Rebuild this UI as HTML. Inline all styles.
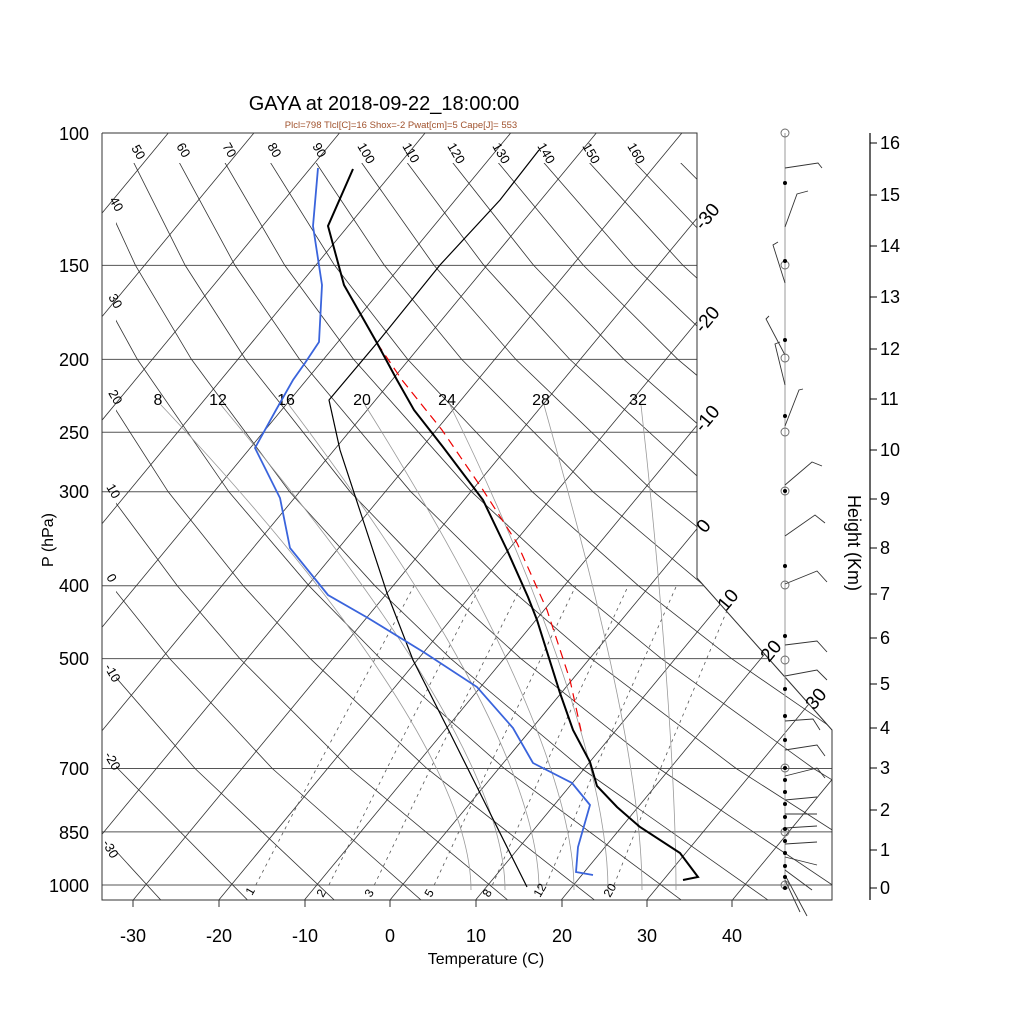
<!DOCTYPE html>
<html><head><meta charset="utf-8">
<style>
html,body{margin:0;padding:0;background:#fff;}
svg{display:block;font-family:"Liberation Sans",sans-serif;}
</style></head>
<body>
<svg width="1024" height="1024" viewBox="0 0 1024 1024" xmlns="http://www.w3.org/2000/svg">
<defs>
<clipPath id="cp"><polygon points="102,133 697,133 697,578 832,730 832,900 102,900"/></clipPath>
<clipPath id="cpd"><polygon points="116,163 697,163 697,578 832,730 832,900 116,900"/></clipPath>
</defs>
<rect width="1024" height="1024" fill="#fff"/>
<g clip-path="url(#cp)" stroke="#555" stroke-width="1">
<line x1="102" y1="265.4" x2="840" y2="265.4"/><line x1="102" y1="359.4" x2="840" y2="359.4"/>
<line x1="102" y1="432.3" x2="840" y2="432.3"/><line x1="102" y1="491.8" x2="840" y2="491.8"/>
<line x1="102" y1="585.8" x2="840" y2="585.8"/><line x1="102" y1="658.6" x2="840" y2="658.6"/>
<line x1="102" y1="768.5" x2="840" y2="768.5"/><line x1="102" y1="831.9" x2="840" y2="831.9"/>
<line x1="102" y1="885" x2="840" y2="885"/>
</g>
<g clip-path="url(#cp)" stroke="#333" stroke-width="0.8">
<line x1="-637.2" y1="900" x2="-2.9" y2="133"/><line x1="-551.6" y1="900" x2="82.7" y2="133"/>
<line x1="-466" y1="900" x2="168.3" y2="133"/><line x1="-380.4" y1="900" x2="253.9" y2="133"/>
<line x1="-294.8" y1="900" x2="339.5" y2="133"/><line x1="-209.2" y1="900" x2="425.1" y2="133"/>
<line x1="-123.6" y1="900" x2="510.7" y2="133"/><line x1="-38" y1="900" x2="596.3" y2="133"/>
<line x1="47.6" y1="900" x2="681.9" y2="133"/><line x1="133.2" y1="900" x2="767.5" y2="133"/>
<line x1="218.8" y1="900" x2="853.1" y2="133"/><line x1="304.4" y1="900" x2="938.7" y2="133"/>
<line x1="390" y1="900" x2="1024.3" y2="133"/><line x1="475.6" y1="900" x2="1109.9" y2="133"/>
<line x1="561.2" y1="900" x2="1195.5" y2="133"/><line x1="646.8" y1="900" x2="1281.1" y2="133"/>
<line x1="732.4" y1="900" x2="1366.7" y2="133"/>
</g>
<g clip-path="url(#cpd)" stroke="#333" stroke-width="0.8" fill="none">
<polyline points="-235.8,133 -213,265.4 -186.9,359.4 -135.2,491.8 -86.3,585.8 -41,658.6 40.4,768.5 161.6,900.9"/>
<polyline points="-191.5,133 -163.2,265.4 -132.9,359.4 -74.5,491.8 -20.4,585.8 29.2,658.6 117.7,768.5 248.4,900.9"/>
<polyline points="-147.1,133 -113.4,265.4 -78.8,359.4 -13.8,491.8 45.5,585.8 99.5,658.6 195,768.5 335.2,900.9"/>
<polyline points="-102.8,133 -63.7,265.4 -24.8,359.4 46.8,491.8 111.4,585.8 169.7,658.6 272.3,768.5 422,900.9"/>
<polyline points="-58.4,133 -13.9,265.4 29.3,359.4 107.5,491.8 177.3,585.8 239.9,658.6 349.6,768.5 508.8,900.9"/>
<polyline points="-14.1,133 35.9,265.4 83.4,359.4 168.2,491.8 243.2,585.8 310.2,658.6 426.9,768.5 595.6,900.9"/>
<polyline points="30.2,133 85.7,265.4 137.4,359.4 228.9,491.8 309,585.8 380.4,658.6 504.3,768.5 682.4,900.9"/>
<polyline points="74.6,133 135.5,265.4 191.5,359.4 289.6,491.8 374.9,585.8 450.6,658.6 581.6,768.5 769.2,900.9"/>
<polyline points="118.9,133 185.2,265.4 245.5,359.4 350.2,491.8 440.8,585.8 520.8,658.6 658.9,768.5 856,900.9"/>
<polyline points="163.3,133 235,265.4 299.6,359.4 410.9,491.8 506.7,585.8 591.1,658.6 736.2,768.5 942.8,900.9"/>
<polyline points="207.6,133 284.8,265.4 353.6,359.4 471.6,491.8 572.6,585.8 661.3,658.6 813.5,768.5 1029.6,900.9"/>
<polyline points="252,133 334.6,265.4 407.7,359.4 532.3,491.8 638.5,585.8 731.5,658.6 890.8,768.5"/>
<polyline points="296.3,133 384.4,265.4 461.7,359.4 593,491.8 704.4,585.8 801.8,658.6 968.1,768.5"/>
<polyline points="340.6,133 434.1,265.4 515.8,359.4 653.6,491.8 770.3,585.8 872,658.6"/>
<polyline points="385,133 483.9,265.4 569.8,359.4 714.3,491.8 836.2,585.8 942.2,658.6"/>
<polyline points="429.3,133 533.7,265.4 623.9,359.4 775,491.8 902,585.8"/>
<polyline points="473.6,133 583.5,265.4 677.9,359.4 835.7,491.8"/>
<polyline points="518,133 633.3,265.4 732,359.4 896.4,491.8"/>
<polyline points="562.3,133 683,265.4 786,359.4"/>
<polyline points="606.7,133 732.8,265.4 840.1,359.4"/>
<polyline points="651,133 782.6,265.4 894.1,359.4"/>
<polyline points="695.3,133 832.4,265.4"/>
<polyline points="739.7,133 882.2,265.4"/>
</g>
<g clip-path="url(#cp)" stroke="#555" stroke-width="0.8" fill="none" stroke-dasharray="3,4">
<polyline points="255.8,885 316.5,768.5 414.1,585.8"/>
<polyline points="328.9,885 386.9,768.5 480.5,585.8"/>
<polyline points="374.3,885 430.6,768.5 521.6,585.8"/>
<polyline points="434.2,885 488.2,768.5 575.8,585.8"/>
<polyline points="492.4,885 543.9,768.5 628.2,585.8"/>
<polyline points="546.1,885 595.4,768.5 676.5,585.8"/>
<polyline points="614,885 660.5,768.5 737.4,585.8"/>
</g>
<g clip-path="url(#cp)" stroke="#999" stroke-width="0.8" fill="none">
<path d="M471,890 C471,750 269.5,520 161,405"/>
<path d="M505,890 C505,750 316,520 221,405"/>
<path d="M539,890 C539,750 376,520 289,405"/>
<path d="M574,890 C574,750 437,520 365,405"/>
<path d="M608,890 C608,750 507,520 450,405"/>
<path d="M642,890 C642,750 576,520 544,405"/>
<path d="M676,890 C676,750 654,520 641,405"/>
</g>
<g fill="none" stroke="#333" stroke-width="1">
<polyline points="102,133 697,133 697,578 832,730 832,900 102,900 102,133"/>
</g>
<text x="384" y="110" font-size="20" text-anchor="middle" fill="#000">GAYA at 2018-09-22_18:00:00</text>
<text x="401" y="128" font-size="9.5" text-anchor="middle" fill="#a0522d">Plcl=798 Tlcl[C]=16 Shox=-2 Pwat[cm]=5 Cape[J]= 553</text>
<g font-size="18" text-anchor="end" fill="#000">
<text x="89" y="140">100</text><text x="89" y="272">150</text><text x="89" y="366">200</text>
<text x="89" y="439">250</text><text x="89" y="498">300</text><text x="89" y="592">400</text>
<text x="89" y="665">500</text><text x="89" y="775">700</text><text x="89" y="839">850</text>
<text x="89" y="892">1000</text>
</g>
<text transform="translate(53,540) rotate(-90)" font-size="16" text-anchor="middle">P (hPa)</text>
<g font-size="18" text-anchor="middle">
<text x="133" y="942">-30</text><text x="219" y="942">-20</text><text x="305" y="942">-10</text>
<text x="390" y="942">0</text><text x="476" y="942">10</text><text x="562" y="942">20</text>
<text x="647" y="942">30</text><text x="732" y="942">40</text>
</g>
<g stroke="#333"><line x1="133" y1="900" x2="133" y2="907"/><line x1="219" y1="900" x2="219" y2="907"/><line x1="305" y1="900" x2="305" y2="907"/><line x1="390" y1="900" x2="390" y2="907"/><line x1="476" y1="900" x2="476" y2="907"/><line x1="562" y1="900" x2="562" y2="907"/><line x1="647" y1="900" x2="647" y2="907"/><line x1="732" y1="900" x2="732" y2="907"/></g>
<text x="486" y="964" font-size="16" text-anchor="middle">Temperature (C)</text>
<g font-size="13" fill="#000">
<text transform="translate(131,148) rotate(60)">50</text>
<text transform="translate(176,146) rotate(60)">60</text>
<text transform="translate(222,146) rotate(60)">70</text>
<text transform="translate(267,146) rotate(60)">80</text>
<text transform="translate(312,146) rotate(60)">90</text>
<text transform="translate(357,146) rotate(60)">100</text>
<text transform="translate(402,146) rotate(60)">110</text>
<text transform="translate(447,146) rotate(60)">120</text>
<text transform="translate(492,146) rotate(60)">130</text>
<text transform="translate(537,146) rotate(60)">140</text>
<text transform="translate(582,146) rotate(60)">150</text>
<text transform="translate(627,146) rotate(60)">160</text>
<text transform="translate(109,200) rotate(60)">40</text>
<text transform="translate(108,297) rotate(60)">30</text>
<text transform="translate(108,393) rotate(60)">20</text>
<text transform="translate(106,487) rotate(60)">10</text>
<text transform="translate(106,577) rotate(60)">0</text>
<text transform="translate(104,667) rotate(60)">-10</text>
<text transform="translate(104,755) rotate(60)">-20</text>
<text transform="translate(102,843) rotate(60)">-30</text>
</g>
<g font-size="19" fill="#000">
<text transform="translate(703,231) rotate(-50)">-30</text>
<text transform="translate(703,334) rotate(-50)">-20</text>
<text transform="translate(703,433) rotate(-50)">-10</text>
<text transform="translate(705,534) rotate(-50)">0</text>
<text transform="translate(726,612) rotate(-50)">10</text>
<text transform="translate(769,663) rotate(-50)">20</text>
<text transform="translate(814,711) rotate(-50)">30</text>
</g>
<g font-size="16" text-anchor="middle" fill="#000">
<text x="158" y="405">8</text><text x="218" y="405">12</text><text x="286" y="405">16</text>
<text x="362" y="405">20</text><text x="447" y="405">24</text><text x="541" y="405">28</text><text x="638" y="405">32</text>
</g>
<g font-size="12" fill="#000">
<text transform="translate(252,896) rotate(-60)">1</text>
<text transform="translate(323,898) rotate(-60)">2</text>
<text transform="translate(371,898) rotate(-60)">3</text>
<text transform="translate(431,898) rotate(-60)">5</text>
<text transform="translate(489,898) rotate(-60)">8</text>
<text transform="translate(540,898) rotate(-60)">12</text>
<text transform="translate(610,898) rotate(-60)">20</text>
</g>
<g fill="none">
<polyline stroke="#000" stroke-width="1.2" points="539,150 500,200 440,265 377,343 329,400 340,450 363,520 387,593 413,660 450,733 480,793 527,887"/>
<polyline stroke="#e00" stroke-width="1.2" stroke-dasharray="9,6" points="377,343 402,380 442,430 483,490 517,543 547,610 570,680 582,735"/>
<polyline stroke="#000" stroke-width="2" points="353,169 328,226 344,285 377,343 397,380 414,410 443,447 483,500 507,550 528,597 537,620 560,693 573,730 590,762 597,786 617,807 640,827 680,853 698,877 683,880"/>
<polyline stroke="#3a64dc" stroke-width="1.8" points="318,168 313,226 322,285 319,342 305,363 293,380 276,410 255,448 280,498 290,548 328,595 368,618 425,653 477,687 513,728 533,763 572,783 590,805 578,847 576,872 593,875"/>
</g>
<line x1="785" y1="133" x2="785" y2="890" stroke="#999" stroke-width="1"/>
<g fill="none" stroke="#333" stroke-width="0.9">
<polyline points="785,168 818,163 822,168"/><polyline points="785,227 797,194 808,191"/>
<polyline points="785,283 773,245 778,242"/><polyline points="785,355 766,319 769,316"/>
<polyline points="785,385 775,344 780,342"/><polyline points="785,426 799,390 803,389"/>
<polyline points="785,485 812,462 822,466"/><polyline points="785,536 815,515 825,523"/>
<polyline points="785,584 817,571 827,582"/><polyline points="785,645 817,641 827,652"/>
<polyline points="785,676 817,670 827,680"/><polyline points="785,721 813,719 820,730"/>
<polyline points="785,750 817,745 825,756"/><polyline points="785,776 817,768 825,778"/>
<polyline points="785,800 817,797"/><polyline points="785,814 817,814"/>
<polyline points="785,828 817,826"/><polyline points="785,844 817,842"/>
<polyline points="785,857 817,865"/><polyline points="785,870 812,890"/>
<polyline points="785,875 807,916"/><polyline points="785,880 800,912"/>
<circle cx="785" cy="133" r="4" stroke="#666"/><circle cx="785" cy="265" r="4" stroke="#666"/>
<circle cx="785" cy="358" r="4" stroke="#666"/><circle cx="785" cy="432" r="4" stroke="#666"/>
<circle cx="785" cy="491" r="4" stroke="#666"/><circle cx="785" cy="585" r="4" stroke="#666"/>
<circle cx="785" cy="660" r="4" stroke="#666"/><circle cx="785" cy="768" r="4" stroke="#666"/>
<circle cx="785" cy="832" r="4" stroke="#666"/><circle cx="785" cy="885" r="4" stroke="#666"/>
</g>
<g fill="#000">
<circle cx="785" cy="183" r="2"/><circle cx="785" cy="261" r="2"/><circle cx="785" cy="340" r="2"/>
<circle cx="785" cy="416" r="2"/><circle cx="785" cy="491" r="2"/><circle cx="785" cy="566" r="2"/><circle cx="785" cy="636" r="2"/>
<circle cx="785" cy="689" r="2"/><circle cx="785" cy="716" r="2"/><circle cx="785" cy="740" r="2"/>
<circle cx="785" cy="768" r="2"/><circle cx="785" cy="780" r="2"/><circle cx="785" cy="792" r="2"/>
<circle cx="785" cy="804" r="2"/><circle cx="785" cy="817" r="2"/><circle cx="785" cy="829" r="2"/>
<circle cx="785" cy="841" r="2"/><circle cx="785" cy="853" r="2"/><circle cx="785" cy="866" r="2"/>
<circle cx="785" cy="877" r="2"/><circle cx="785" cy="888" r="2"/>
</g>
<line x1="870" y1="133" x2="870" y2="900" stroke="#000" stroke-width="1.2"/>
<g stroke="#000">
<line x1="870" x2="877" y1="888" y2="888"/><line x1="870" x2="877" y1="850" y2="850"/>
<line x1="870" x2="877" y1="810" y2="810"/><line x1="870" x2="877" y1="768" y2="768"/>
<line x1="870" x2="877" y1="728" y2="728"/><line x1="870" x2="877" y1="684" y2="684"/>
<line x1="870" x2="877" y1="638" y2="638"/><line x1="870" x2="877" y1="594" y2="594"/>
<line x1="870" x2="877" y1="548" y2="548"/><line x1="870" x2="877" y1="499" y2="499"/>
<line x1="870" x2="877" y1="450" y2="450"/><line x1="870" x2="877" y1="399" y2="399"/>
<line x1="870" x2="877" y1="349" y2="349"/><line x1="870" x2="877" y1="297" y2="297"/>
<line x1="870" x2="877" y1="246" y2="246"/><line x1="870" x2="877" y1="195" y2="195"/>
<line x1="870" x2="877" y1="143" y2="143"/>
</g>
<text transform="translate(848,543) rotate(90)" font-size="18" text-anchor="middle">Height (Km)</text>
<g font-size="18" fill="#000">
<text x="880" y="894">0</text><text x="880" y="856">1</text><text x="880" y="816">2</text><text x="880" y="774">3</text>
<text x="880" y="734">4</text><text x="880" y="690">5</text><text x="880" y="644">6</text><text x="880" y="600">7</text>
<text x="880" y="554">8</text><text x="880" y="505">9</text><text x="880" y="456">10</text><text x="880" y="405">11</text>
<text x="880" y="355">12</text><text x="880" y="303">13</text><text x="880" y="252">14</text><text x="880" y="201">15</text><text x="880" y="149">16</text>
</g>
</svg>
</body></html>
